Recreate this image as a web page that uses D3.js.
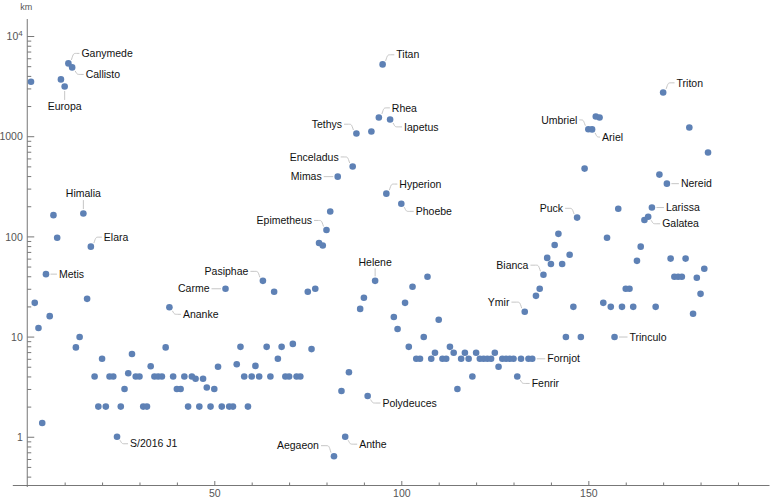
<!DOCTYPE html>
<html>
<head>
<meta charset="utf-8">
<script src="https://cdn.jsdelivr.net/npm/d3@7"></script>
<style>
  body { margin: 0; background: #fff; }
  svg { display: block; font-family: "Liberation Sans", Arial, sans-serif; }
  .tick text { fill: #555; font-size: 10.5px; }
  .domain, .tick line { stroke: #777; }
  .moon-label { font-size: 10.5px; fill: #111; }
  .leader { fill: none; stroke: #c6c6c6; stroke-width: 1; }
</style>
</head>
<body>
<svg width="770" height="501"></svg>
<script>
// moon number (x) and diameter in km (y); 74 has no value
const moonIndex = d3.range(1, 183);
const diameterKm = [
  3500, 21.7, 12.2, 1.37, 42, 16, 163, 97, 3690, 3140,
  5330, 4860, 7.8, 9.9, 169, 23.8, 79, 4, 2, 6,
  2, 4, 4, 1, 2, 3, 4.3, 6.7, 4, 4,
  2, 2, 5.05, 4, 4, 4, 7.8, 19.6, 4, 3,
  3, 4, 2, 4, 3.8, 2, 3.8, 3.1, 2, 3,
  5, 2, 30, 2, 2, 5.3, 7.9, 4, 2, 4,
  5.1, 4, 36, 7.9, 4, 28, 6, 7.9, 4, 4,
  8.45, 4, 4, null, 28, 7.5, 30, 86, 81, 116,
  177, 0.64, 395, 2.86, 1, 4.4, 498, 1064, 18.9, 24.4,
  2.55, 1114, 36, 1538, 5210, 267, 1469, 15.7, 11.9, 212,
  21.7, 7.9, 31.4, 6, 6, 9.9, 39.5, 6, 6.9, 14.7,
  6, 6, 7.9, 6.9, 3, 6, 6.9, 6, 4, 6.9,
  6, 6, 6, 6, 6.9, 5, 6, 6, 6, 6,
  4, 6, 17.7, 6, 6, 25.5, 30, 41.4, 61, 53,
  82, 106, 53, 9.9, 65.6, 19.8, 154, 9.9, 475, 1175,
  1170, 1574, 1538, 21.7, 97, 19.8, 9.9, 189, 19.8, 30,
  30, 19.8, 57, 79, 146, 157, 194, 19.8, 414, 2735,
  336, 60, 39.5, 39.5, 39.5, 60, 1222, 16.9, 38.6, 26.7,
  47.5, 687
];

const labelNames = ["Metis", "Europa", "Ganymede", "Callisto", "Himalia", "Elara", "S/2016 J1",
  "Ananke", "Carme", "Pasiphae", "Epimetheus", "Aegaeon", "Mimas", "Anthe", "Enceladus",
  "Tethys", "Polydeuces", "Helene", "Rhea", "Titan", "Hyperion", "Iapetus", "Phoebe",
  "Fenrir", "Ymir", "Fornjot", "Bianca", "Puck", "Umbriel", "Ariel", "Trinculo",
  "Galatea", "Larissa", "Triton", "Nereid"];
const labelIndex = [5, 10, 11, 12, 15, 17, 24, 38, 53, 63, 80, 82, 83, 85, 87, 88, 91, 93, 94,
  95, 96, 97, 100, 131, 133, 135, 138, 147, 150, 151, 157, 166, 167, 170, 171];

const xTicks = d3.range(0, 200, 10);
const xTickLabels = [50, 100, 150];

// where each label sits relative to its point (pixels)
const labelOffset = {
  "Metis": [13, 0], "Europa": [0, 20], "Ganymede": [13, -10], "Callisto": [13.5, 7],
  "Himalia": [0, -20], "Elara": [13, -9.5], "S/2016 J1": [13, 7], "Ananke": [13.5, 7],
  "Carme": [-16, 0], "Pasiphae": [-14.5, -9.5], "Epimetheus": [-14.5, -9.5],
  "Aegaeon": [-15, -10.5], "Mimas": [-16, 0], "Anthe": [14, 7.4], "Enceladus": [-14, -9.6],
  "Tethys": [-14.4, -9.3], "Polydeuces": [14.8, 7], "Helene": [0, -19], "Rhea": [13, -9.6],
  "Titan": [13.7, -9.6], "Hyperion": [13, -9.6], "Iapetus": [14, 7.4], "Phoebe": [14.4, 7.7],
  "Fenrir": [14.4, 7], "Ymir": [-15.3, -9.6], "Fornjot": [15, 0], "Bianca": [-15, -9.6],
  "Puck": [-14, -9.3], "Umbriel": [-11, -9.3], "Ariel": [10, 7.7], "Trinculo": [15, 0],
  "Galatea": [14, 7], "Larissa": [14, 0], "Triton": [13.4, -9.6], "Nereid": [14, 0]
};

const svg = d3.select("svg");

const x = d3.scaleLinear().domain([-4, 198.3]).range([12.3, 769]);
const y = d3.scaleLog().domain([0.33, 14790]).range([485, 19]);

// x axis
const xAxisG = svg.append("g")
  .attr("transform", `translate(0,${y.range()[0]})`)
  .call(d3.axisBottom(x)
    .tickValues(xTicks)
    .tickSizeOuter(0)
    .tickSizeInner(-2.5)
    .tickPadding(5)
    .tickFormat((d) => (xTickLabels.includes(d) ? d : "")));
xAxisG.selectAll(".tick line")
  .attr("y2", (d) => (d % 50 === 0 && d > 0 ? -4 : -2.5));
xAxisG.selectAll(".tick").filter((d) => d === 0).select("line").remove();

// y axis with log minor ticks
const yMajor = [1, 10, 100, 1000, 10000];
const yTicks = [];
[0.1, 1, 10, 100, 1000].forEach((dec) => {
  d3.range(1, 10).forEach((m) => {
    const v = dec * m;
    if (v >= 0.33 && v <= 14790) yTicks.push(v);
  });
});
yTicks.push(10000);

const yAxisG = svg.append("g")
  .attr("transform", `translate(${x(0)},0)`)
  .call(d3.axisLeft(y)
    .tickValues(yTicks)
    .tickSizeOuter(0)
    .tickSizeInner(-4)
    .tickPadding(4.5)
    .tickFormat(""));
yAxisG.select(".domain").attr("d", `M0,${y.range()[1]}V${y.range()[0] + 2}`);
yAxisG.selectAll(".tick")
  .filter((d) => yMajor.some((m) => Math.abs(m - d) < 1e-6))
  .each(function (d) {
    const g = d3.select(this);
    g.select("line").attr("x2", 7);
    const t = g.select("text").attr("dy", "0.35em");
    if (d === 10000) {
      t.text("10");
      t.append("tspan").attr("dy", "-0.55em").attr("font-size", "8px").text("4");
    } else {
      t.text(d);
    }
  });

svg.append("text")
  .attr("x", x(0) - 1)
  .attr("y", 10)
  .attr("text-anchor", "middle")
  .attr("fill", "#555")
  .attr("font-size", "9px")
  .text("km");

// points
const points = moonIndex
  .map((i, k) => ({ i, d: diameterKm[k] }))
  .filter((p) => p.d !== null);

svg.append("g")
  .selectAll("circle")
  .data(points)
  .enter()
  .append("circle")
  .attr("cx", (p) => x(p.i))
  .attr("cy", (p) => y(p.d))
  .attr("r", 3.3)
  .attr("fill", "#5e81b5");

// labels and leader lines
const labels = labelNames.map((name, k) => {
  const i = labelIndex[k];
  return { name, px: x(i), py: y(diameterKm[i - 1]), off: labelOffset[name] };
});

function leaderPath(l) {
  const [dx, dy] = l.off;
  const { px, py } = l;
  if (dx === 0) {
    const s = Math.sign(dy);
    return `M${px},${py + s * 4.5}L${px},${py + dy - s * 6.5}`;
  }
  const s = Math.sign(dx);
  const ex = px + dx - s * 2;
  if (dy === 0) return `M${px + s * 4.5},${py}L${ex},${py}`;
  const ty = py + dy;
  const sx = px + s * 3;
  const sy = py + Math.sign(dy) * 3.5;
  return `M${sx},${sy}C${px + s * 5},${ty} ${px + s * 5},${ty} ${px + s * 8},${ty}L${ex},${ty}`;
}

const lab = svg.append("g");
lab.selectAll("path")
  .data(labels)
  .enter()
  .append("path")
  .attr("class", "leader")
  .attr("d", leaderPath);

lab.selectAll("text")
  .data(labels)
  .enter()
  .append("text")
  .attr("class", "moon-label")
  .attr("x", (l) => l.px + l.off[0])
  .attr("y", (l) => l.py + l.off[1])
  .attr("dy", "0.35em")
  .attr("text-anchor", (l) => (l.off[0] === 0 ? "middle" : l.off[0] > 0 ? "start" : "end"))
  .text((l) => l.name);
</script>
</body>
</html>
